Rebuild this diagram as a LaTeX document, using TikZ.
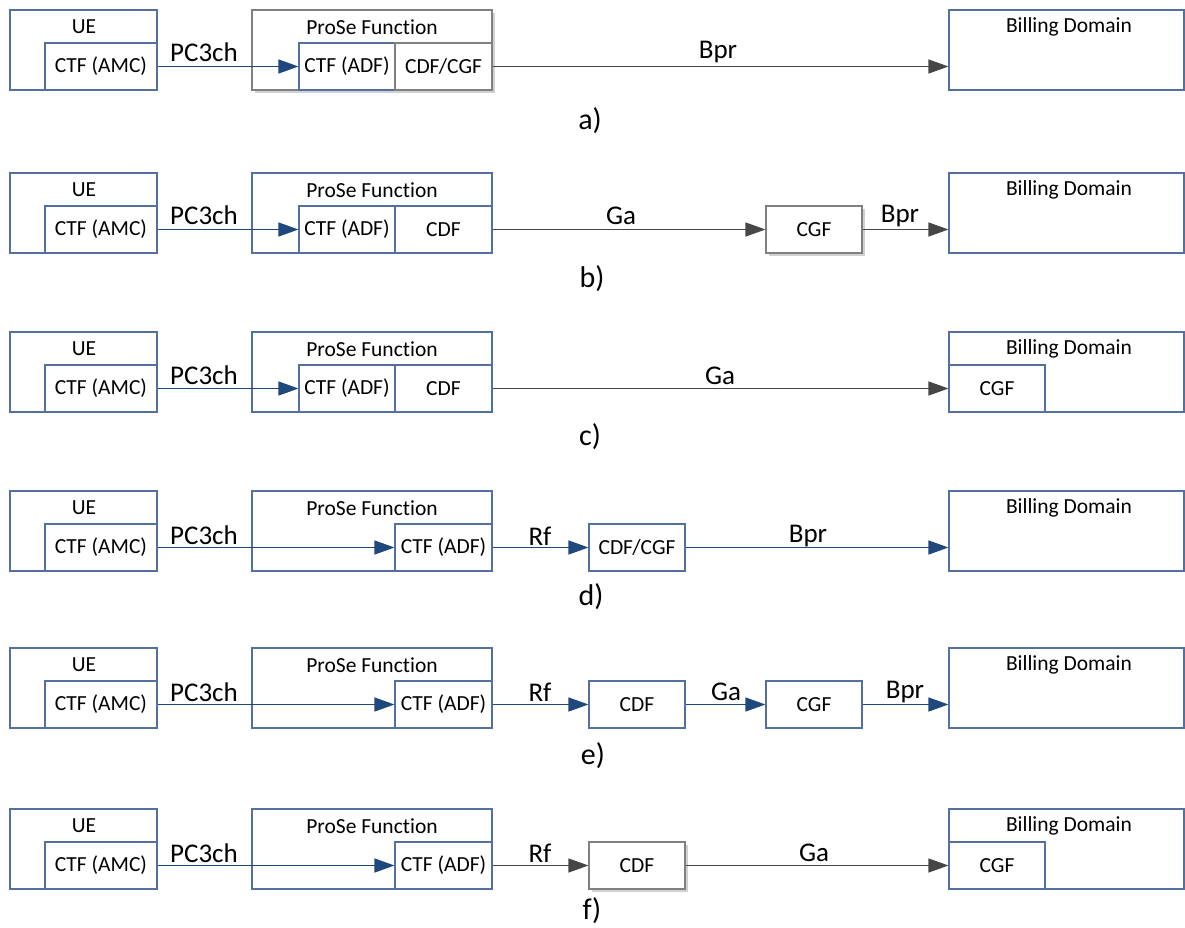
\documentclass[tikz,border=0pt]{standalone}
\usepackage{fontspec}
\setmainfont{Carlito}[RawFeature={-liga}]
\usetikzlibrary{arrows.meta,shadows}
\definecolor{bb}{RGB}{84,112,160}
\definecolor{gb}{RGB}{128,128,128}
\definecolor{ab}{RGB}{31,73,125}
\definecolor{ag}{RGB}{70,70,70}
\newcommand\mkbox[7]{\node[#6,minimum width={(#4-#2)*1pt},minimum height={(#5-#3)*1pt}] (#1) at ({(#2+#4)/2},{(#3+#5)/2}) {#7};}
\tikzset{
  bbox/.style={draw=bb,line width=1.1pt,fill=white,inner sep=0pt,font=\fontsize{21.5}{25}\selectfont},
  gbox/.style={draw=gb,line width=1.1pt,fill=white,inner sep=0pt,font=\fontsize{21.5}{25}\selectfont,
    drop shadow={shadow xshift=3pt,shadow yshift=-3pt,fill=black!18,opacity=1}},
  txt/.style={inner sep=0pt,font=\fontsize{21.5}{25}\selectfont},
  lbl/.style={inner sep=0pt,font=\fontsize{27}{31}\selectfont},
  rowcap/.style={inner sep=0pt,font=\fontsize{30}{34}\selectfont},
  barr/.style={draw=ab,line width=1.3pt,-{Triangle[length=20pt,width=14pt]},fill=ab},
  garr/.style={draw=ag,line width=1.2pt,-{Triangle[length=20pt,width=14pt]},fill=ag},
}
\begin{document}
\begin{tikzpicture}[x=1pt,y=-1pt]
\useasboundingbox (0,0) rectangle (1185,928);
% ---------- row a
\mkbox{uea}{10}{10}{157}{90}{bbox}{}
\node[txt] (ueta) at (84,27) {UE};
\mkbox{amca}{45}{43}{157}{90}{bbox}{CTF (AMC)}
\mkbox{prosea}{252}{10}{492}{90}{gbox}{}
\node[txt] (prota) at (372,27) {ProSe Function};
\mkbox{adfa}{299}{43}{395}{90}{bbox}{CTF (ADF)}
\mkbox{cdfa}{395}{43}{492}{90}{gbox}{CDF/CGF}
\mkbox{bda}{949}{10}{1184}{90}{bbox}{}
\node[txt] (bdta) at (1069,27) {Billing Domain};
\draw[barr] (amca.east) -- (adfa.west);
\node[lbl] (pca) at (204,52) {PC3ch};
\draw[garr] (cdfa.east) -- (cdfa.east -| bda.west);
\node[lbl] (bpra) at (718,52) {Bpr};
\node[rowcap] (capa) at (590,121) {a)};
% ---------- row b
\mkbox{ueb}{10}{173}{157}{253}{bbox}{}
\node[txt] (uetb) at (84,190) {UE};
\mkbox{amcb}{45}{206}{157}{253}{bbox}{CTF (AMC)}
\mkbox{proseb}{252}{173}{492}{253}{bbox}{}
\node[txt] (protb) at (372,190) {ProSe Function};
\mkbox{adfb}{299}{206}{395}{253}{bbox}{CTF (ADF)}
\mkbox{cdfb}{395}{206}{492}{253}{bbox}{CDF}
\mkbox{cgfb}{766}{206}{862}{253}{gbox}{CGF}
\mkbox{bdb}{949}{173}{1184}{253}{bbox}{}
\node[txt] (bdtb) at (1069,190) {Billing Domain};
\draw[barr] (amcb.east) -- (adfb.west);
\node[lbl] (pcb) at (204,215) {PC3ch};
\draw[garr] (cdfb.east) -- (cgfb.west);
\node[lbl] (gab) at (621,216) {Ga};
\draw[garr] (cgfb.east) -- (cgfb.east -| bdb.west);
\node[lbl] (bprb) at (900,216) {Bpr};
\node[rowcap] (capb) at (592,279) {b)};
% ---------- row c
\mkbox{uec}{10}{332}{157}{412}{bbox}{}
\node[txt] (uetc) at (84,349) {UE};
\mkbox{amcc}{45}{365}{157}{412}{bbox}{CTF (AMC)}
\mkbox{prosec}{252}{332}{492}{412}{bbox}{}
\node[txt] (protc) at (372,349) {ProSe Function};
\mkbox{adfc}{299}{365}{395}{412}{bbox}{CTF (ADF)}
\mkbox{cdfc}{395}{365}{492}{412}{bbox}{CDF}
\mkbox{bdc}{949}{332}{1184}{412}{bbox}{}
\node[txt] (bdtc) at (1069,349) {Billing Domain};
\mkbox{bcgfc}{949}{365}{1045}{412}{bbox}{CGF}
\draw[barr] (amcc.east) -- (adfc.west);
\node[lbl] (pcc) at (204,375) {PC3ch};
\draw[garr] (cdfc.east) -- (bcgfc.west);
\node[lbl] (gac) at (720,376) {Ga};
\node[rowcap] (capc) at (590,437) {c)};
% ---------- row d
\mkbox{ued}{10}{491}{157}{571}{bbox}{}
\node[txt] (uetd) at (84,508) {UE};
\mkbox{amcd}{45}{524}{157}{571}{bbox}{CTF (AMC)}
\mkbox{prosed}{252}{491}{492}{571}{bbox}{}
\node[txt] (protd) at (372,508) {ProSe Function};
\mkbox{adfd}{395}{524}{492}{571}{bbox}{CTF (ADF)}
\mkbox{ccd}{589}{524}{685}{571}{bbox}{CDF/CGF}
\mkbox{bdd}{949}{491}{1184}{571}{bbox}{}
\node[txt] (bdtd) at (1069,508) {Billing Domain};
\draw[barr] (amcd.east) -- (adfd.west);
\node[lbl] (pcd) at (204,535) {PC3ch};
\draw[barr] (adfd.east) -- (ccd.west);
\node[lbl] (rfd) at (540,536) {Rf};
\draw[barr] (ccd.east) -- (ccd.east -| bdd.west);
\node[lbl] (bprd) at (808,536) {Bpr};
\node[rowcap] (capd) at (591,597) {d)};
% ---------- row e
\mkbox{uee}{10}{648}{157}{728}{bbox}{}
\node[txt] (uete) at (84,665) {UE};
\mkbox{amce}{45}{681}{157}{728}{bbox}{CTF (AMC)}
\mkbox{prosee}{252}{648}{492}{728}{bbox}{}
\node[txt] (prote) at (372,665) {ProSe Function};
\mkbox{adfe}{395}{681}{492}{728}{bbox}{CTF (ADF)}
\mkbox{cdfe}{589}{681}{685}{728}{bbox}{CDF}
\mkbox{cgfe}{766}{681}{862}{728}{bbox}{CGF}
\mkbox{bde}{949}{648}{1184}{728}{bbox}{}
\node[txt] (bdte) at (1069,665) {Billing Domain};
\draw[barr] (amce.east) -- (adfe.west);
\node[lbl] (pce) at (204,692) {PC3ch};
\draw[barr] (adfe.east) -- (cdfe.west);
\node[lbl] (rfe) at (540,692) {Rf};
\draw[barr] (cdfe.east) -- (cgfe.west);
\node[lbl] (gae) at (726,692) {Ga};
\draw[barr] (cgfe.east) -- (cgfe.east -| bde.west);
\node[lbl] (bpre) at (905,692) {Bpr};
\node[rowcap] (cape) at (593,756) {e)};
% ---------- row f
\mkbox{uef}{10}{809}{157}{889}{bbox}{}
\node[txt] (uetf) at (84,826) {UE};
\mkbox{amcf}{45}{842}{157}{889}{bbox}{CTF (AMC)}
\mkbox{prosef}{252}{809}{492}{889}{bbox}{}
\node[txt] (protf) at (372,826) {ProSe Function};
\mkbox{adff}{395}{842}{492}{889}{bbox}{CTF (ADF)}
\mkbox{cdff}{589}{842}{685}{889}{gbox}{CDF}
\mkbox{bdf}{949}{809}{1184}{889}{bbox}{}
\node[txt] (bdtf) at (1069,826) {Billing Domain};
\mkbox{bcgff}{949}{842}{1045}{889}{bbox}{CGF}
\draw[barr] (amcf.east) -- (adff.west);
\node[lbl] (pcf) at (204,853) {PC3ch};
\draw[garr] (adff.east) -- (cdff.west);
\node[lbl] (rff) at (540,853) {Rf};
\draw[garr] (cdff.east) -- (bcgff.west);
\node[lbl] (gaf) at (814,853) {Ga};
\node[rowcap] (capf) at (592,911) {f)};
\end{tikzpicture}
\end{document}
